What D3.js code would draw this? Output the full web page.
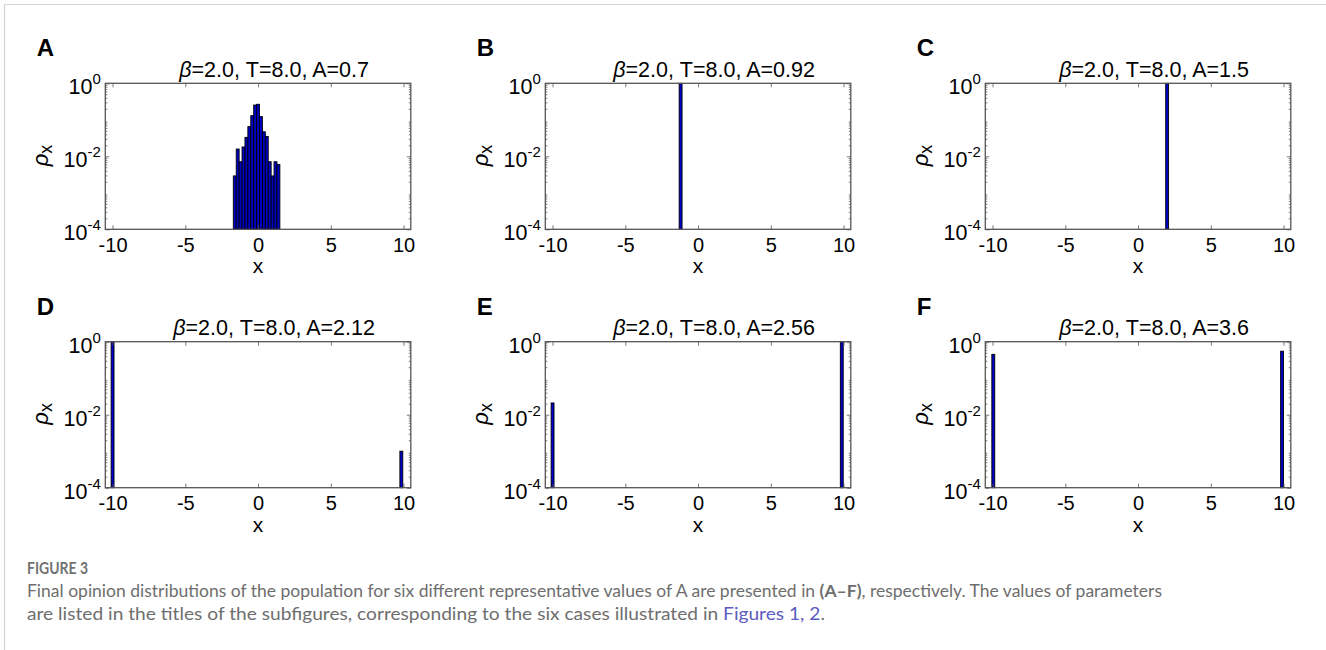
<!DOCTYPE html>
<html>
<head>
<meta charset="utf-8">
<script src="https://cdn.jsdelivr.net/npm/d3@7"></script>
<style>
  body { margin: 0; background: #fff; }
  svg { display: block; }
</style>
</head>
<body>
<script>
const FIGURE = { WIDTH: 1326, HEIGHT: 650 };
const PLOT = { WIDTH: 305.5, HEIGHT: 146 };
const COLS = [105.3, 545.3, 985.3];
const ROWS = [83.3, 341.7];

// chart values
const letters = ['A', 'B', 'C', 'D', 'E', 'F'];
const aValues = ['0.7', '0.92', '1.5', '2.12', '2.56', '3.6'];
const xTicks = [-10, -5, 0, 5, 10];
const yExps = [0, -2, -4];

const binsA = [-1.6, -1.4, -1.2, -1.0, -0.8, -0.6, -0.4, -0.2, 0.0, 0.2, 0.4, 0.6, 0.8, 1.0, 1.2, 1.4];
const rhoA = [0.0029, 0.0158, 0.0071, 0.018, 0.033, 0.065, 0.13, 0.254, 0.266, 0.122, 0.047, 0.035, 0.0071, 0.0029, 0.0071, 0.006];
const binsB = [-1.2];
const rhoB = [1];
const binsC = [2.0];
const rhoC = [1];
const binsD = [-10.0, 9.85];
const rhoD = [1, 0.001];
const binsE = [-10.0, 9.88];
const rhoE = [0.021, 1];
const binsF = [-9.95, 9.9];
const rhoF = [0.45, 0.55];

const allBins = [binsA, binsB, binsC, binsD, binsE, binsF];
const allRho = [rhoA, rhoB, rhoC, rhoD, rhoE, rhoF];
const BIN_WIDTH = 0.2;

const AXIS_COLOR = '#555';
const FONT = '"Liberation Sans", Arial, sans-serif';

let svg = d3.select('body')
    .append('svg')
        .attr('width', FIGURE.WIDTH)
        .attr('height', FIGURE.HEIGHT);

// page frame
svg.append('line')
    .attr('x1', 4).attr('y1', 4.5).attr('x2', FIGURE.WIDTH).attr('y2', 4.5)
    .attr('stroke', '#d4d4d4').attr('stroke-width', 1.2);
svg.append('line')
    .attr('x1', 4.5).attr('y1', 4).attr('x2', 4.5).attr('y2', FIGURE.HEIGHT)
    .attr('stroke', '#d4d4d4').attr('stroke-width', 1.2);

let x = d3.scaleLinear()
    .domain([-10.5, 10.5])
    .range([0, PLOT.WIDTH]);

let y = d3.scaleLog()
    .domain([1e-4, 1])
    .range([PLOT.HEIGHT, 0]);

// minor ticks for log axis: 2..9 x 10^k
const minorTicks = y.ticks().filter(d => Math.abs(Math.log10(d) - Math.round(Math.log10(d))) > 1e-6);
const majorTicks = yExps.map(e => Math.pow(10, e));

letters.forEach((letter, i) => {
    const left = COLS[i % 3];
    const top = ROWS[Math.floor(i / 3)];

    let plot = svg.append('g')
        .attr('transform', `translate(${left}, ${top})`);

    // bars
    plot.selectAll('rect.bar')
        .data(allBins[i].map((b, j) => ({ bin: b, rho: allRho[i][j] })))
        .enter()
        .append('rect')
            .attr('class', 'bar')
            .attr('x', d => x(d.bin - BIN_WIDTH / 2))
            .attr('width', d => x(d.bin + BIN_WIDTH / 2) - x(d.bin - BIN_WIDTH / 2))
            .attr('y', d => y(d.rho))
            .attr('height', d => y(1e-4) - y(d.rho))
            .attr('fill', '#0000c4')
            .attr('stroke', '#000')
            .attr('stroke-width', 0.9);

    // x axes (bottom with labels, top ticks only)
    let xBottom = plot.append('g')
        .attr('transform', `translate(0, ${PLOT.HEIGHT})`)
        .call(d3.axisBottom(x).tickValues(xTicks).tickSize(-4).tickPadding(5).tickFormat(d => String(d)));
    xBottom.selectAll('text')
        .attr('font-family', FONT).attr('font-size', 20).attr('fill', '#000')
        .attr('dy', '0.88em');
    plot.append('g')
        .call(d3.axisTop(x).tickValues(xTicks).tickSize(-4).tickFormat(''));

    // y axes, major and minor, left and right
    plot.append('g')
        .call(d3.axisLeft(y).tickValues(majorTicks).tickSize(-4).tickFormat(''));
    plot.append('g')
        .call(d3.axisLeft(y).tickValues(minorTicks).tickSize(-2).tickFormat(''));
    plot.append('g')
        .attr('transform', `translate(${PLOT.WIDTH}, 0)`)
        .call(d3.axisRight(y).tickValues(majorTicks).tickSize(-4).tickFormat(''));
    plot.append('g')
        .attr('transform', `translate(${PLOT.WIDTH}, 0)`)
        .call(d3.axisRight(y).tickValues(minorTicks).tickSize(-2).tickFormat(''));

    plot.selectAll('.domain').remove();
    plot.selectAll('.tick line').attr('stroke', AXIS_COLOR).attr('stroke-width', 0.8);

    // y tick labels as 10^k
    yExps.forEach(e => {
        let t = plot.append('text')
            .attr('x', -4.5)
            .attr('y', y(Math.pow(10, e)) + 11)
            .attr('text-anchor', 'end')
            .attr('font-family', FONT)
            .attr('font-size', 21.5)
            .attr('fill', '#000');
        t.append('tspan').text('10');
        t.append('tspan')
            .attr('font-size', 15)
            .attr('dy', -10)
            .text(String(e));
    });

    // box
    plot.append('rect')
        .attr('width', PLOT.WIDTH)
        .attr('height', PLOT.HEIGHT)
        .attr('fill', 'none')
        .attr('stroke', AXIS_COLOR)
        .attr('stroke-width', 1.3);

    // title
    let title = plot.append('text')
        .attr('x', PLOT.WIDTH / 2 + 16)
        .attr('y', -6.5)
        .attr('text-anchor', 'middle')
        .attr('font-family', FONT)
        .attr('font-size', 21.5)
        .attr('fill', '#000');
    title.append('tspan').attr('font-style', 'italic').text('β');
    title.append('tspan').text(`=2.0, T=8.0, A=${aValues[i]}`);

    // x label
    plot.append('text')
        .attr('x', PLOT.WIDTH / 2)
        .attr('y', PLOT.HEIGHT + 44)
        .attr('text-anchor', 'middle')
        .attr('font-family', FONT)
        .attr('font-size', 21)
        .text('x');

    // y label rho_x
    let ylab = plot.append('text')
        .attr('transform', `translate(${-57}, ${y(1e-2) + 10}) rotate(-90)`)
        .attr('font-family', FONT)
        .attr('font-size', 22)
        .attr('fill', '#000');
    ylab.append('tspan').attr('font-style', 'italic').text('ρ');
    ylab.append('tspan').attr('font-size', 18).attr('dy', 4).text('x');

    // panel letter
    plot.append('text')
        .attr('x', -68.5)
        .attr('y', -27)
        .attr('font-family', FONT)
        .attr('font-weight', 'bold')
        .attr('font-size', 24)
        .attr('fill', '#000')
        .text(letter);
});

// caption
const CAPTION_FONT = 'Lato, "Open Sans", sans-serif';
svg.append('text')
    .attr('x', 27).attr('y', 573.5)
    .attr('font-family', CAPTION_FONT)
    .attr('font-size', 17.5)
    .attr('font-weight', 'bold')
    .attr('fill', '#727272')
    .attr('textLength', 61).attr('lengthAdjust', 'spacingAndGlyphs')
    .text('FIGURE 3');

let line1 = svg.append('text')
    .attr('x', 27).attr('y', 597)
    .attr('font-family', CAPTION_FONT)
    .attr('font-size', 17.5)
    .attr('fill', '#6e6e6e')
    .attr('textLength', 1135).attr('lengthAdjust', 'spacingAndGlyphs');
line1.append('tspan').text('Final opinion distributions of the population for six different representative values of A are presented in ');
line1.append('tspan').attr('font-weight', 'bold').text('(A–F)');
line1.append('tspan').text(', respectively. The values of parameters');

let line2 = svg.append('text')
    .attr('x', 27).attr('y', 619.5)
    .attr('font-family', CAPTION_FONT)
    .attr('font-size', 17.5)
    .attr('fill', '#6e6e6e')
    .attr('textLength', 798).attr('lengthAdjust', 'spacingAndGlyphs');
line2.append('tspan').text('are listed in the titles of the subfigures, corresponding to the six cases illustrated in ');
line2.append('tspan').attr('fill', '#5b5bc0').text('Figures 1, 2');
line2.append('tspan').text('.');
</script>
</body>
</html>
